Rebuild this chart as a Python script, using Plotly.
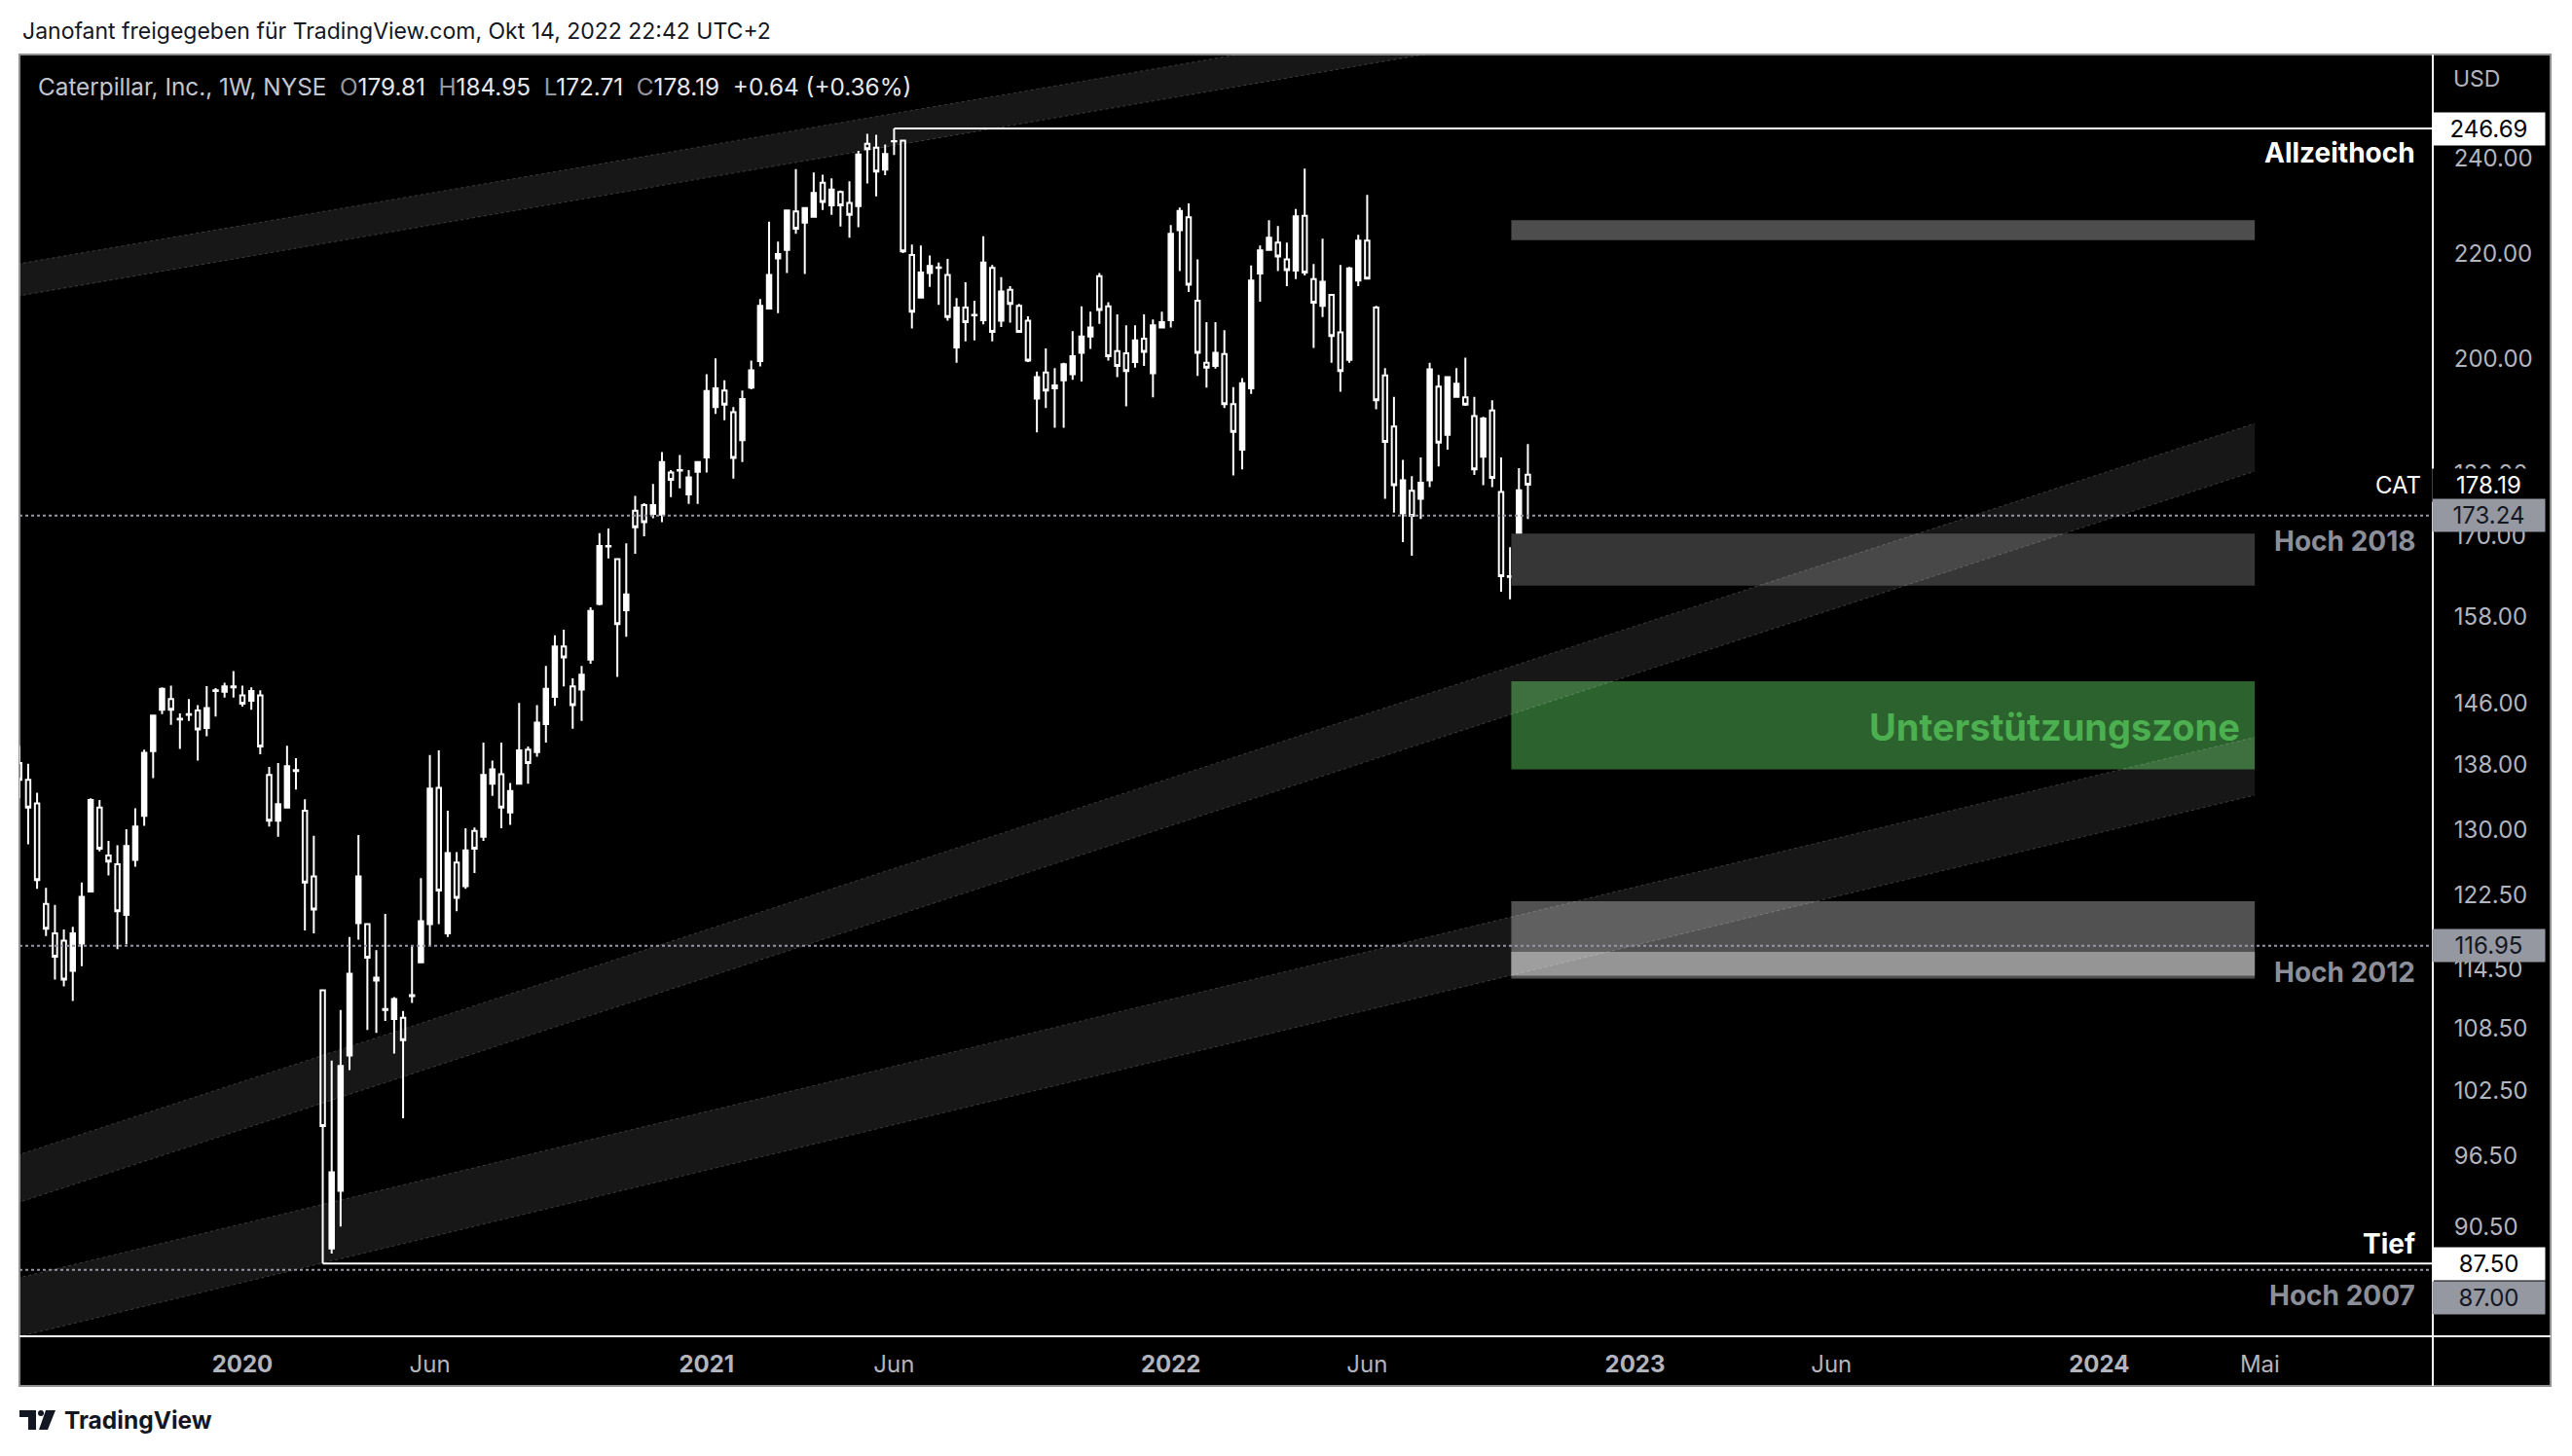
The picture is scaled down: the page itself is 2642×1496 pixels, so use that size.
import math
import pandas as pd
import plotly.graph_objects as go

# ---------------- data (weekly candles, CAT) ----------------
week_start = "2019-07-15"
opens = [138.2, 136.1, 133.2, 121.5, 118.3, 117.5, 114.3, 117.2, 122.9, 132.7,
         127.0, 126.0, 120.3, 126.5, 131.7, 139.7, 145.1, 146.5, 143.9, 144.5,
         145.0, 142.7, 147.7, 147.5, 148.2, 147.0, 146.3, 147.0, 136.7, 131.1,
         132.7, 137.2, 132.3, 124.6, 112.3, 88.7, 93.5, 105.8, 119.4, 119.3,
         113.6, 110.3, 109.4, 109.5, 111.7, 115.2, 119.3, 135.1, 118.3, 126.2,
         123.5, 129.9, 129.2, 135.6, 136.8, 132.1, 135.6, 139.9, 139.6, 143.2,
         146.8, 153.7, 148.2, 147.8, 151.9, 159.8, 168.5, 166.5, 158.9, 174.0,
         174.9, 173.5, 173.4, 180.2, 180.6, 176.6, 180.3, 182.7, 191.3, 194.2,
         190.4, 185.6, 194.7, 199.5, 209.3, 219.1, 220.8, 228.7, 226.4, 227.6,
         234.8, 230.0, 232.8, 230.5, 229.8, 243.3, 242.4, 237.6, 243.9, 244.0,
         219.8, 211.4, 216.2, 217.2, 215.8, 202.0, 209.5, 208.0, 207.1, 217.2,
         207.0, 212.9, 209.8, 207.0, 192.8, 197.4, 194.6, 196.0, 197.1, 201.0,
         204.0, 215.6, 209.7, 201.3, 200.9, 199.3, 203.6, 197.3, 205.7, 207.1,
         224.8, 227.5, 210.8, 199.2, 198.6, 200.8, 191.8, 184.0, 194.6, 216.1,
         220.8, 222.3, 218.9, 216.7, 227.8, 215.0, 209.8, 211.9, 204.8, 199.7,
         214.7, 222.7, 209.5, 196.9, 187.9, 173.6, 177.2, 175.9, 178.9, 194.9,
         186.5, 193.1, 193.0, 189.7, 182.8, 190.7, 177.0, 163.9, 167.2, 179.81]
highs = [140.4, 138.1, 134.5, 123.3, 121.4, 118.7, 119.0, 123.9, 133.8, 133.6,
         128.7, 128.2, 130.1, 132.6, 139.9, 144.4, 148.1, 148.3, 144.6, 146.5,
         145.7, 148.25, 148.0, 148.7, 150.3, 148.3, 148.1, 147.7, 137.7, 138.2,
         140.4, 138.8, 133.7, 129.3, 112.3, 105.3, 110.3, 117.9, 129.4, 119.4,
         116.5, 120.4, 111.6, 110.2, 116.9, 124.4, 139.2, 139.8, 132.3, 127.4,
         130.2, 130.3, 140.8, 138.5, 140.8, 135.7, 146.0, 140.3, 145.7, 151.0,
         155.3, 156.1, 149.3, 151.0, 159.3, 170.5, 171.2, 166.6, 168.9, 176.4,
         175.2, 178.3, 183.6, 180.6, 183.1, 180.6, 181.9, 197.1, 200.0, 196.0,
         191.3, 194.2, 199.6, 211.1, 226.6, 222.5, 228.9, 237.7, 229.5, 237.0,
         236.5, 235.7, 233.1, 235.1, 241.7, 245.5, 245.3, 243.1, 246.69, 244.2,
         221.9, 221.7, 219.7, 218.3, 219.0, 211.3, 214.4, 210.8, 223.6, 217.8,
         215.4, 213.6, 210.2, 207.8, 197.6, 201.8, 198.2, 199.2, 205.0, 209.7,
         208.7, 216.2, 210.5, 208.2, 206.1, 206.1, 208.2, 207.2, 208.7, 225.9,
         229.5, 230.4, 218.9, 206.7, 206.7, 205.2, 194.8, 196.4, 217.7, 221.7,
         226.9, 225.7, 222.3, 229.2, 237.8, 218.0, 223.1, 212.0, 217.8, 217.4,
         223.9, 232.2, 209.8, 198.2, 193.1, 182.3, 179.6, 182.7, 199.2, 197.0,
         196.7, 198.2, 200.1, 193.1, 189.6, 192.5, 182.7, 168.3, 180.9, 184.95]
lows = [133.8, 128.3, 123.2, 118.0, 113.4, 112.7, 111.2, 114.8, 122.8, 127.5,
        124.7, 116.6, 117.1, 125.7, 130.5, 136.3, 144.5, 143.1, 140.0, 143.6,
        138.5, 141.6, 144.2, 146.7, 146.7, 145.5, 145.1, 139.3, 130.4, 129.2,
        132.6, 134.9, 118.6, 118.3, 87.5, 88.3, 90.5, 104.4, 117.6, 108.3,
        108.0, 109.2, 106.0, 99.9, 111.0, 115.2, 117.0, 119.3, 117.9, 120.7,
        123.2, 125.0, 128.7, 134.1, 130.2, 130.6, 135.6, 135.6, 139.0, 140.8,
        145.6, 148.2, 142.6, 143.6, 151.3, 159.6, 166.6, 149.5, 155.1, 167.3,
        170.0, 172.8, 172.2, 176.2, 177.6, 175.1, 175.1, 180.2, 190.1, 189.0,
        179.2, 181.9, 194.4, 198.5, 209.3, 208.4, 216.2, 224.1, 216.0, 227.5,
        229.0, 228.0, 225.6, 223.3, 225.4, 234.6, 231.9, 236.4, 240.8, 220.2,
        205.5, 211.2, 213.5, 210.0, 207.0, 199.2, 203.1, 203.3, 206.3, 203.1,
        205.8, 206.6, 204.7, 199.3, 186.9, 191.1, 187.7, 187.7, 196.1, 195.8,
        201.7, 206.4, 199.6, 196.6, 191.4, 198.3, 198.6, 193.0, 205.5, 205.7,
        216.6, 212.5, 196.8, 194.7, 198.1, 191.1, 179.7, 180.7, 193.6, 210.6,
        220.7, 216.6, 213.6, 215.0, 215.7, 201.9, 207.7, 199.2, 194.0, 199.2,
        213.6, 215.0, 190.9, 175.9, 173.7, 169.1, 167.0, 172.7, 177.8, 181.2,
        184.0, 193.1, 191.5, 179.8, 178.1, 177.8, 161.6, 160.5, 166.0, 172.71]
closes = [136.1, 132.7, 124.2, 118.8, 115.8, 113.4, 118.3, 122.3, 133.6, 127.8,
          126.3, 120.7, 128.1, 130.4, 139.5, 144.3, 147.9, 145.1, 143.8, 144.4,
          142.5, 145.3, 147.6, 148.2, 148.1, 145.9, 147.6, 140.3, 131.1, 133.1,
          137.8, 137.3, 123.9, 120.9, 99.2, 95.1, 104.8, 114.0, 124.6, 115.7,
          113.3, 110.4, 111.4, 107.3, 111.8, 119.6, 135.0, 123.0, 127.3, 122.2,
          127.6, 127.8, 136.7, 137.4, 132.7, 134.7, 139.8, 138.2, 143.4, 147.9,
          153.7, 152.2, 145.7, 149.8, 158.8, 168.5, 168.4, 156.9, 161.2, 171.4,
          172.2, 174.9, 181.9, 179.0, 180.5, 179.4, 181.9, 194.1, 194.6, 191.7,
          182.6, 192.7, 197.8, 209.8, 215.8, 220.0, 228.9, 225.1, 229.4, 232.6,
          230.7, 233.3, 230.0, 228.0, 240.9, 242.1, 237.2, 241.0, 243.8, 220.5,
          208.7, 216.3, 217.6, 217.3, 207.7, 209.5, 206.7, 208.1, 218.3, 204.9,
          212.6, 210.2, 204.9, 199.6, 196.6, 194.2, 195.1, 198.9, 200.4, 204.0,
          205.7, 209.0, 200.4, 198.6, 197.7, 203.3, 201.2, 206.1, 206.7, 224.1,
          228.8, 213.9, 201.0, 198.3, 201.0, 191.8, 187.0, 195.5, 214.7, 220.7,
          223.3, 219.5, 216.8, 227.7, 216.3, 210.4, 214.5, 204.1, 197.7, 217.1,
          222.7, 215.1, 192.5, 185.3, 178.1, 178.9, 173.2, 178.5, 198.0, 185.2,
          196.6, 195.4, 191.7, 180.7, 189.3, 179.3, 163.9, 163.8, 177.3, 178.19]
dates = pd.date_range(week_start, periods=len(opens), freq="7D")

price_ticks = [240, 220, 200, 180, 170, 158, 146, 138, 130, 122.5, 114.5, 108.5, 102.5, 96.5, 90.5]
time_tick_dates = ["2020-01-06", "2020-06-01", "2021-01-04", "2021-05-31", "2022-01-03",
                   "2022-06-06", "2023-01-02", "2023-06-05", "2024-01-01", "2024-05-06"]
time_tick_labels = ["2020", "Jun", "2021", "Jun", "2022", "Jun", "2023", "Jun", "2024", "Mai"]
time_tick_is_year = [True, False, True, False, True, False, True, False, True, False]

x_view = ["2019-07-15 04:30", "2024-09-18 14:00"]
y_view = [81.87, 263.95]

ath_price, ath_date = 246.69, "2021-05-31"
low_price, low_date = 87.50, "2020-03-09"
dotted_prices = [173.24, 116.95, 87.00]
last_price = 178.19

zone_x = ["2022-09-27", "2024-05-02"]
zone_top = [222.8, 226.9]
zone_h2018 = [162.5, 170.4]
zone_support = [137.4, 148.9]
zone_h2012 = [113.5, 121.8]
zone_h2012_inner = [113.8, 116.3]

band_top_x = ["2019-06-30", "2023-01-18"]
band_top_upper = [217.4, 281.8]
band_top_lower = [211.1, 273.7]
band_mid_x = ["2019-06-30", "2024-05-02"]
band_mid_upper = [96.1, 188.45]
band_mid_lower = [92.0, 180.4]
band_low_x = ["2019-06-30", "2024-05-02"]
band_low_upper = [86.0, 141.5]
band_low_lower = [81.5, 134.2]

label_prices = {"Allzeithoch": 241.3, "Hoch 2018": 169.2, "Hoch 2012": 114.2,
                "Tief": 89.1, "Hoch 2007": 84.96}
support_label_price, support_label_date = 142.8, "2024-04-22"

# ---------------- geometry helpers (pixel layout of the screenshot) ----------------
W, H = 2642, 1496
PL, PR, PT, PB = 20, 2499, 56, 1373          # plot area
def px_x(X):
    return (X - PL) / (PR - PL)
def px_y(Y):
    return (PB - Y) / (PB - PT)

FONT = "Inter, Roboto, Arial, sans-serif"
AXIS_GRAY = "#b2b5be"
LABEL_GRAY = "#8c8f98"
TAG_GRAY = "#9598a1"
DARK = "#131722"

fig = go.Figure()

def add_box(xs, lohi, color):
    fig.add_trace(go.Scatter(
        x=[xs[0], xs[1], xs[1], xs[0], xs[0]],
        y=[lohi[0], lohi[0], lohi[1], lohi[1], lohi[0]],
        mode="lines", fill="toself", fillcolor=color, line=dict(width=0, color=color),
        hoverinfo="skip", showlegend=False))

add_box(zone_x, zone_top, "#4d4d4d")
add_box(zone_x, zone_h2018, "#363636")
add_box(zone_x, zone_support, "#2b622d")
add_box(zone_x, zone_h2012, "#515151")
add_box(zone_x, zone_h2012_inner, "#959595")

def add_band(xs, upper, lower):
    fig.add_trace(go.Scatter(
        x=[xs[0], xs[1], xs[1], xs[0], xs[0]],
        y=[lower[0], lower[1], upper[1], upper[0], lower[0]],
        mode="lines", fill="toself", fillcolor="rgba(255,255,255,0.09)",
        line=dict(width=0, color="rgba(0,0,0,0)"), hoverinfo="skip", showlegend=False))
    for edge in (upper, lower):
        fig.add_trace(go.Scatter(
            x=xs, y=edge, mode="lines",
            line=dict(width=1, color="rgba(255,255,255,0.2)", dash="dot"),
            hoverinfo="skip", showlegend=False))

add_band(band_top_x, band_top_upper, band_top_lower)
add_band(band_mid_x, band_mid_upper, band_mid_lower)
add_band(band_low_x, band_low_upper, band_low_lower)

# dotted horizontal price lines
for p in dotted_prices:
    fig.add_trace(go.Scatter(x=x_view, y=[p, p], mode="lines",
                             line=dict(width=2, color=TAG_GRAY, dash="dot"),
                             hoverinfo="skip", showlegend=False))
# all-time-high and low lines
fig.add_trace(go.Scatter(x=[ath_date, x_view[1]], y=[ath_price, ath_price], mode="lines",
                         line=dict(width=2, color="white"), hoverinfo="skip", showlegend=False))
fig.add_trace(go.Scatter(x=[low_date, x_view[1]], y=[low_price, low_price], mode="lines",
                         line=dict(width=2, color="white"), hoverinfo="skip", showlegend=False))

fig.add_trace(go.Candlestick(
    x=dates, open=opens, high=highs, low=lows, close=closes,
    increasing=dict(line=dict(color="white", width=2), fillcolor="white"),
    decreasing=dict(line=dict(color="white", width=2), fillcolor="rgba(0,0,0,0)"),
    whiskerwidth=0, showlegend=False, hoverinfo="skip"))

# ---------------- annotations ----------------
ann = []
def lg(v):
    return math.log10(v)

ann.append(dict(xref="paper", yref="paper", x=px_x(21), y=px_y(32), xanchor="left", yanchor="middle",
                text="Janofant freigegeben für TradingView.com, Okt 14, 2022 22:42 UTC+2",
                showarrow=False, font=dict(family=FONT, size=23, color=DARK)))
legend_txt = ("<span style='color:#c3c6ce'>Caterpillar, Inc., 1W, NYSE</span>\u00a0\u00a0"
              "<span style='color:#9598a1'>O</span><span style='color:#e6e8ee'>179.81</span>\u00a0\u00a0"
              "<span style='color:#9598a1'>H</span><span style='color:#e6e8ee'>184.95</span>\u00a0\u00a0"
              "<span style='color:#9598a1'>L</span><span style='color:#e6e8ee'>172.71</span>\u00a0\u00a0"
              "<span style='color:#9598a1'>C</span><span style='color:#e6e8ee'>178.19</span>\u00a0\u00a0"
              "<span style='color:#e6e8ee'>+0.64 (+0.36%)</span>")
ann.append(dict(xref="paper", yref="paper", x=px_x(37), y=px_y(89), xanchor="left", yanchor="middle",
                text=legend_txt, showarrow=False, font=dict(family=FONT, size=24.3, color="#d1d4dc")))
ann.append(dict(xref="paper", yref="paper", x=px_x(2518), y=px_y(81), xanchor="left", yanchor="middle",
                text="USD", showarrow=False, font=dict(family=FONT, size=23, color=AXIS_GRAY)))
ann.append(dict(xref="paper", yref="paper", x=px_x(64), y=px_y(1459), xanchor="left", yanchor="middle",
                text="<b>TradingView</b>", showarrow=False, font=dict(family=FONT, size=24.5, color=DARK)))

# chart labels
for name, p in label_prices.items():
    col = "white" if name in ("Allzeithoch", "Tief") else LABEL_GRAY
    ann.append(dict(xref="paper", yref="y", x=px_x(2483), y=lg(p), xanchor="right", yanchor="middle",
                    text="<b>" + name + "</b>", showarrow=False,
                    font=dict(family=FONT, size=28, color=col)))
ann.append(dict(xref="x", yref="y", x=support_label_date, y=lg(support_label_price),
                xanchor="right", yanchor="middle", text="<b>Unterstützungszone</b>", showarrow=False,
                font=dict(family=FONT, size=38, color="#4caf50")))

# price-scale tags
def tag(p, text, bg, fg, y_at=None):
    ann.append(dict(xref="paper", yref="y", x=px_x(2498), y=lg(y_at if y_at else p),
                    xanchor="left", yanchor="middle", text=text, showarrow=False,
                    bgcolor=bg, borderpad=4, width=107, height=25, align="center",
                    font=dict(family=FONT, size=24, color=fg)))

tag(ath_price, f"{ath_price:.2f}", "white", "black")
tag(last_price, f"{last_price:.2f}", "black", "white")
tag(dotted_prices[0], f"{dotted_prices[0]:.2f}", TAG_GRAY, DARK)
tag(dotted_prices[1], f"{dotted_prices[1]:.2f}", TAG_GRAY, DARK)
tag(low_price, f"{low_price:.2f}", "white", "black")
tag(dotted_prices[2], f"{dotted_prices[2]:.2f}", TAG_GRAY, DARK, y_at=84.8)
ann.append(dict(xref="paper", yref="y", x=px_x(2499), y=lg(last_price), xanchor="right", yanchor="middle",
                text="CAT", showarrow=False, bgcolor="black", borderpad=4, width=61, height=25,
                align="center", font=dict(family=FONT, size=24, color="white")))

# ---------------- frame shapes ----------------
shapes = [
    dict(type="rect", xref="paper", yref="paper", x0=px_x(20), x1=px_x(2620), y0=px_y(1424), y1=px_y(56),
         fillcolor="black", line=dict(color="#8f8f8f", width=2), layer="below"),
    dict(type="line", xref="paper", yref="paper", x0=px_x(2499), x1=px_x(2499), y0=px_y(1424), y1=px_y(56),
         line=dict(color="white", width=2), layer="above"),
    dict(type="line", xref="paper", yref="paper", x0=px_x(20), x1=px_x(2620), y0=px_y(1373), y1=px_y(1373),
         line=dict(color="white", width=2), layer="above"),
]
# TradingView logo mark
def pp(X, Y):
    return f"{px_x(X):.5f},{px_y(Y):.5f}"
shapes.append(dict(type="path", xref="paper", yref="paper",
                   path=f"M {pp(20,1449)} L {pp(37,1449)} L {pp(37,1469)} L {pp(29,1469)} L {pp(29,1456)} L {pp(20,1456)} Z",
                   fillcolor=DARK, line=dict(width=0), layer="above"))
shapes.append(dict(type="circle", xref="paper", yref="paper", x0=px_x(39), x1=px_x(45), y0=px_y(1455), y1=px_y(1449),
                   fillcolor=DARK, line=dict(width=0), layer="above"))
shapes.append(dict(type="path", xref="paper", yref="paper",
                   path=f"M {pp(47,1449)} L {pp(57,1449)} L {pp(49,1469)} L {pp(40,1469)} Z",
                   fillcolor=DARK, line=dict(width=0), layer="above"))

ticktext = [("<b>" + t + "</b>") if y else t for t, y in zip(time_tick_labels, time_tick_is_year)]

fig.update_layout(
    width=W, height=H,
    margin=dict(l=PL, r=W - PR, t=PT, b=H - PB, pad=0),
    paper_bgcolor="white", plot_bgcolor="black",
    showlegend=False, hovermode=False,
    font=dict(family=FONT, size=24, color=AXIS_GRAY),
    xaxis=dict(type="date", range=x_view, showgrid=False, zeroline=False, showline=False,
               tickmode="array", tickvals=time_tick_dates, ticktext=ticktext,
               tickfont=dict(family=FONT, size=24, color=AXIS_GRAY),
               ticks="outside", ticklen=7, tickcolor="rgba(0,0,0,0)",
               rangeslider=dict(visible=False), fixedrange=True),
    yaxis=dict(type="log", side="right", range=[lg(y_view[0]), lg(y_view[1])],
               showgrid=False, zeroline=False, showline=False,
               tickmode="array", tickvals=price_ticks, ticktext=[f"{v:.2f}" for v in price_ticks],
               tickfont=dict(family=FONT, size=24, color=AXIS_GRAY),
               ticks="outside", ticklen=16, tickcolor="rgba(0,0,0,0)", fixedrange=True),
    annotations=ann,
    shapes=shapes,
)

fig.write_html("out.html", include_plotlyjs=True, full_html=True,
               config={"displayModeBar": False, "staticPlot": True},
               post_script="document.body.style.margin='0';document.body.style.padding='0';")
